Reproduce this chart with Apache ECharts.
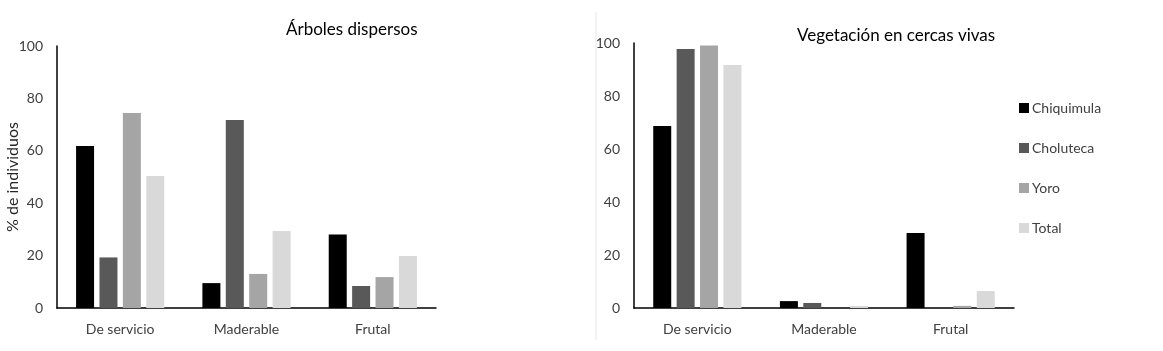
<!DOCTYPE html>
<html>
<head>
<meta charset="utf-8">
<script src="https://cdn.jsdelivr.net/npm/echarts@6/dist/echarts.min.js"></script>
<style>
  html, body { margin: 0; padding: 0; background: #fff; }
  #main { width: 1163px; height: 351px; }
</style>
</head>
<body>
<div id="main"></div>
<script>
// categorias y series
var categorias = ['De servicio', 'Maderable', 'Frutal'];
var regiones = ['Chiquimula', 'Choluteca', 'Yoro', 'Total'];
var colores = ['#000000', '#595959', '#a5a5a5', '#d9d9d9'];

// Arboles dispersos
var arb_chiquimula = [61.8, 9.5, 28.1];
var arb_choluteca = [19.3, 71.8, 8.4];
var arb_yoro = [74.4, 13.0, 11.8];
var arb_total = [50.4, 29.4, 19.8];

// Vegetacion en cercas vivas
var cer_chiquimula = [68.7, 2.6, 28.3];
var cer_choluteca = [97.7, 1.9, 0];
var cer_yoro = [99.1, 0, 0.8];
var cer_total = [91.7, 0.8, 6.4];

var fuente = 'Lato';

function ejeX(idx) {
    return {
        type: 'category',
        gridIndex: idx,
        data: categorias,
        axisTick: {show: false},
        axisLine: {lineStyle: {color: '#000', width: 1.5}},
        axisLabel: {fontSize: 14, color: '#404040', margin: 14, fontFamily: fuente}
    };
}

function ejeY(idx, nombre) {
    return {
        type: 'value',
        gridIndex: idx,
        min: 0,
        max: 100,
        interval: 20,
        name: nombre,
        nameLocation: 'middle',
        nameGap: 36,
        nameMoveOverlap: false,
        nameTextStyle: {fontSize: 16, color: '#262626', fontFamily: fuente},
        splitLine: {show: false},
        axisTick: {show: false},
        axisLine: {show: true, lineStyle: {color: '#000', width: 1.5}},
        axisLabel: {fontSize: 14, color: '#404040', margin: 14, fontFamily: fuente}
    };
}

function serie(nombre, datos, idx, color) {
    return {
        name: nombre,
        type: 'bar',
        xAxisIndex: idx,
        yAxisIndex: idx,
        data: datos,
        barWidth: 18,
        barGap: '30%',
        itemStyle: {color: color}
    };
}

var chart = echarts.init(document.getElementById('main'));
var option = {
    backgroundColor: '#fff',
    animation: false,
    title: [
        {text: 'Árboles dispersos', left: 281, top: 16,
         textStyle: {fontSize: 17, fontWeight: 'normal', color: '#000', fontFamily: fuente}},
        {text: 'Vegetación en cercas vivas', left: 792, top: 22,
         textStyle: {fontSize: 17, fontWeight: 'normal', color: '#000', fontFamily: fuente}}
    ],
    legend: {
        data: regiones,
        orient: 'vertical',
        left: 1014,
        top: 96,
        itemWidth: 10,
        itemHeight: 10,
        itemGap: 26,
        icon: 'rect',
        textStyle: {fontSize: 14, color: '#404040', fontFamily: fuente, padding: [0, 0, 0, -2]}
    },
    grid: [
        {left: 57, top: 46, width: 379, height: 262},
        {left: 634, top: 43, width: 380, height: 265}
    ],
    xAxis: [ejeX(0), ejeX(1)],
    yAxis: [ejeY(0, '% de individuos'), ejeY(1, '')],
    graphic: [
        {type: 'line', shape: {x1: 596, y1: 12, x2: 596, y2: 340},
         style: {stroke: '#e6e6e6', lineWidth: 1}}
    ],
    series: [
        serie('Chiquimula', arb_chiquimula, 0, colores[0]),
        serie('Choluteca', arb_choluteca, 0, colores[1]),
        serie('Yoro', arb_yoro, 0, colores[2]),
        serie('Total', arb_total, 0, colores[3]),
        serie('Chiquimula', cer_chiquimula, 1, colores[0]),
        serie('Choluteca', cer_choluteca, 1, colores[1]),
        serie('Yoro', cer_yoro, 1, colores[2]),
        serie('Total', cer_total, 1, colores[3])
    ]
};
chart.setOption(option);
</script>
</body>
</html>
